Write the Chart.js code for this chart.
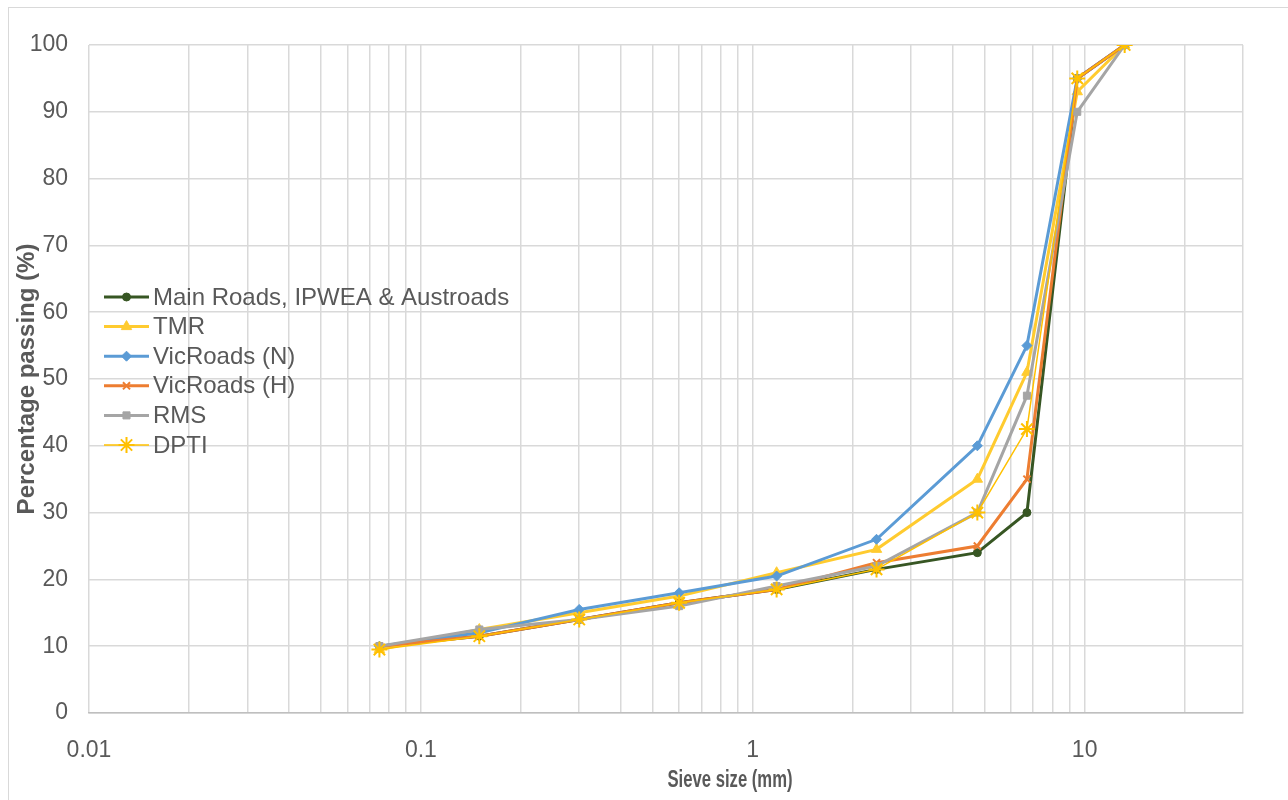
<!DOCTYPE html>
<html lang="en">
<head>
<meta charset="UTF-8">
<title>Particle size distribution</title>
<script src="https://cdn.jsdelivr.net/npm/chart.js"></script>
<style>
    body { margin: 0; background: #fff; overflow: hidden; font-family: 'Liberation Sans', Arial, sans-serif; }
    .frame { position: absolute; left: 8px; top: 7px; width: 1300px; height: 820px; border: 1px solid #d9d9d9; }
    .wrap { position: absolute; left: 0; top: 0; width: 1288px; height: 800px; }
</style>
</head>
<body>
<div class="frame"></div>
<div class="wrap"><canvas id="gradingChart" width="1288" height="800"></canvas></div>
<script>
// sieve sizes (mm)
var sieveSizes = [0.075, 0.15, 0.3, 0.6, 1.18, 2.36, 4.75, 6.7, 9.5, 13.2];

// percentage passing for each specification
var mainRoads  = [10, 11.5, 14, 16.5, 18.5, 21.5, 24, 30, 95, 100];
var tmr        = [9.5, 12.5, 15, 17.5, 21, 24.5, 35, 51, 93, 100];
var vicRoadsN  = [10, 12, 15.5, 18, 20.5, 26, 40, 55, 95, 100];
var vicRoadsH  = [10, 11.5, 14, 16.5, 18.5, 22.5, 25, 35, 95, 100];
var rms        = [10, 12.5, 14, 16, 19, 22, 30, 47.5, 90, 100];
var dpti       = [9.5, 11.5, 14, 16.5, 18.5, 21.5, 30, 42.5, 95, 100];

// x gridlines (log scale) and which ones get a label
var xGridValues = [0.01, 0.02, 0.03, 0.04, 0.05, 0.06, 0.07, 0.08, 0.09,
                   0.1, 0.2, 0.3, 0.4, 0.5, 0.6, 0.7, 0.8, 0.9,
                   1, 2, 3, 4, 5, 6, 7, 8, 9,
                   10, 20, 30];
var xTickLabels = ['0.01', '0.1', '1', '10'];

function pts(values) {
    return sieveSizes.map(function (s, i) { return { x: s, y: values[i] }; });
}

var textColor = '#595959';
var gridColor = '#d9d9d9';

var datasets = [
    { label: 'Main Roads, IPWEA & Austroads', data: pts(mainRoads), borderColor: '#375623', backgroundColor: '#375623',
      borderWidth: 3, pointStyle: 'circle', pointRadius: 4, pointBorderWidth: 1, order: 5 },
    { label: 'TMR', data: pts(tmr), borderColor: '#FFCB2F', backgroundColor: '#FFCB2F',
      borderWidth: 3, pointStyle: 'triangle', pointRadius: 6, pointBorderWidth: 1, order: 4 },
    { label: 'VicRoads (N)', data: pts(vicRoadsN), borderColor: '#5B9BD5', backgroundColor: '#5B9BD5',
      borderWidth: 3, pointStyle: 'rectRot', pointRadius: 5, pointBorderWidth: 1, order: 3 },
    { label: 'VicRoads (H)', data: pts(vicRoadsH), borderColor: '#ED7D31', backgroundColor: '#ED7D31',
      borderWidth: 3, pointStyle: 'crossRot', pointRadius: 5, pointBorderWidth: 2, order: 2 },
    { label: 'RMS', data: pts(rms), borderColor: '#A5A5A5', backgroundColor: '#A5A5A5',
      borderWidth: 3, pointStyle: 'rect', pointRadius: 5, pointBorderWidth: 1, order: 1 },
    { label: 'DPTI', data: pts(dpti), borderColor: '#FFC000', backgroundColor: '#FFC000',
      borderWidth: 1.5, pointStyle: 'star', pointRadius: 8, pointBorderWidth: 2, order: 0 }
];

// legend drawn inside the plot area, like the original
var insideLegend = {
    id: 'insideLegend',
    afterDraw: function (chart) {
        var ctx = chart.ctx;
        ctx.save();
        datasets.forEach(function (ds, i) {
            var y = 297 + i * 29.6;
            ctx.strokeStyle = ds.borderColor;
            ctx.lineWidth = ds.borderWidth;
            ctx.beginPath();
            ctx.moveTo(104, y);
            ctx.lineTo(149, y);
            ctx.stroke();
            ctx.fillStyle = ds.backgroundColor;
            ctx.lineWidth = ds.pointBorderWidth;
            Chart.helpers.drawPoint(ctx, {
                pointStyle: ds.pointStyle, radius: ds.pointRadius, rotation: 0, borderWidth: ds.pointBorderWidth
            }, 126.5, y);
            ctx.fillStyle = textColor;
            ctx.font = '24px "Liberation Sans", Arial, sans-serif';
            ctx.textAlign = 'left';
            ctx.textBaseline = 'middle';
            ctx.fillText(ds.label, 153, y + 1);
        });
        // x axis title
        ctx.font = 'bold 24px "Liberation Sans", Arial, sans-serif';
        ctx.textAlign = 'center';
        ctx.textBaseline = 'middle';
        ctx.fillText('Sieve size (mm)', 730, 780, 125);
        ctx.restore();
    }
};

var ctx = document.getElementById('gradingChart').getContext('2d');
var gradingChart = new Chart(ctx, {
    type: 'line',
    data: { datasets: datasets },
    plugins: [insideLegend],
    options: {
        responsive: false,
        animation: false,
        layout: { padding: { top: 45, right: 45, left: 0, bottom: 0 } },
        plugins: { legend: { display: false }, tooltip: { enabled: false } },
        scales: {
            x: {
                type: 'logarithmic',
                min: 0.01,
                max: 30,
                afterBuildTicks: function (scale) {
                    scale.ticks = xGridValues.map(function (v) { return { value: v }; });
                },
                afterFit: function (scale) { scale.height = 87; },
                grid: { color: gridColor, lineWidth: 1.5, drawTicks: false },
                border: { color: '#bfbfbf', width: 1.5 },
                ticks: {
                    autoSkip: false,
                    maxRotation: 0,
                    padding: 24,
                    color: textColor,
                    font: { size: 23, family: '"Liberation Sans", Arial, sans-serif' },
                    callback: function (value) {
                        var s = String(+value.toPrecision(6));
                        return xTickLabels.indexOf(s) >= 0 ? s : '';
                    }
                }
            },
            y: {
                min: 0,
                max: 100,
                afterFit: function (scale) { scale.width = 89; },
                grid: { color: gridColor, lineWidth: 1.5, drawTicks: false },
                border: { display: false },
                ticks: {
                    stepSize: 10,
                    padding: 21,
                    color: textColor,
                    font: { size: 23, family: '"Liberation Sans", Arial, sans-serif' }
                },
                title: {
                    display: true,
                    text: 'Percentage passing (%)',
                    color: textColor,
                    font: { size: 24, weight: 'bold', family: '"Liberation Sans", Arial, sans-serif' },
                    padding: { top: 13, bottom: 0 }
                }
            }
        }
    }
});
</script>
</body>
</html>
